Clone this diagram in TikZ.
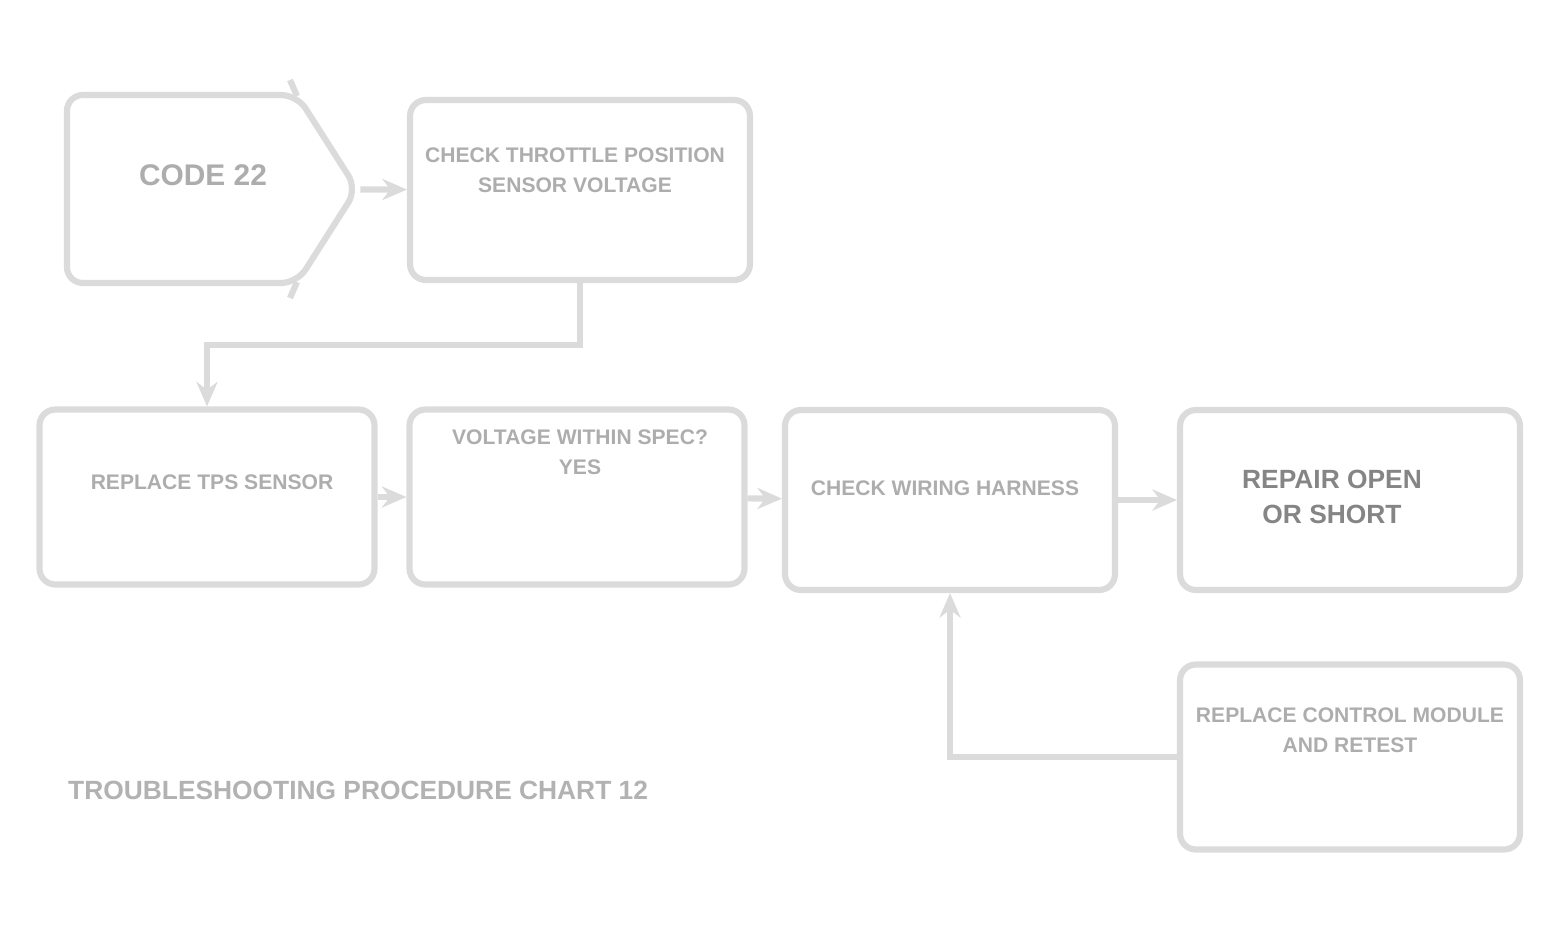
\documentclass[tikz,border=0pt]{standalone}
\usepackage{fontspec}
\setmainfont{Liberation Sans}
\usetikzlibrary{shapes.symbols, arrows.meta}

\tikzset{
  frame/.style = {draw = black!14, line width = 3.5pt, rounded corners = 9pt, inner sep = 0pt},
  edge/.style = {draw = black!14, line width = 3.5pt, -{Stealth[length = 14pt, width = 12pt]}},
  txt/.style = {text = black!32, align = center, font = \fontsize{12}{17}\selectfont\bfseries},
  darktxt/.style = {text = black!48, align = center, font = \fontsize{15}{20}\selectfont\bfseries}
}

\begin{document}
\begin{tikzpicture}[x = 0.02cm, y = -0.02cm]
\useasboundingbox (0, 0) rectangle (1561, 924);

% top row
\node[frame, shape = signal, signal to = east, signal pointer angle = 115,
  minimum width = 5.8cm, minimum height = 3.76cm] (code) at (182, 189) {};
\node[txt, font = \fontsize{17}{20}\selectfont\bfseries] (codetxt) at (203, 175) {CODE 22};
\draw[draw = black!14, line width = 3.5pt] (297, 96) -- (290, 80);
\draw[draw = black!14, line width = 3.5pt] (297, 282) -- (290, 298);
\node[frame, minimum width = 6.8cm, minimum height = 3.6cm] (tps) at (580, 190) {};
\node[txt] (tpstxt) at (575, 170) {CHECK THROTTLE POSITION\\SENSOR VOLTAGE};

% middle row
\node[frame, minimum width = 6.7cm, minimum height = 3.5cm] (repl) at (207, 497) {};
\node[txt] (repltxt) at (212, 482) {REPLACE TPS SENSOR};
\node[frame, minimum width = 6.7cm, minimum height = 3.5cm] (volt) at (577, 497) {};
\node[txt] (volttxt) at (580, 452) {VOLTAGE WITHIN SPEC?\\YES};
\node[frame, minimum width = 6.6cm, minimum height = 3.6cm] (wire) at (950, 500) {};
\node[txt] (wiretxt) at (945, 488) {CHECK WIRING HARNESS};
\node[frame, minimum width = 6.8cm, minimum height = 3.6cm] (open) at (1350, 500) {};
\node[darktxt] (opentxt) at (1332, 497) {REPAIR OPEN\\OR SHORT};

% bottom row
\node[frame, minimum width = 6.8cm, minimum height = 3.7cm] (ecm) at (1350, 757) {};
\node[txt] (ecmtxt) at (1350, 730) {REPLACE CONTROL MODULE\\AND RETEST};

\node[txt, anchor = west, font = \fontsize{15}{17}\selectfont\bfseries, text = black!30]
  (caption) at (62, 790) {TROUBLESHOOTING PROCEDURE CHART 12};

% connectors
\draw[edge] (code) -- (tps);
\draw[edge] (tps.south) -- ++(0, 62) -| (repl.north);
\draw[edge] (repl) -- (volt);
\draw[edge] (volt) -- (wire);
\draw[edge] (wire) -- (open);
\draw[edge] (ecm.west) -| (wire.south);
\end{tikzpicture}
\end{document}
